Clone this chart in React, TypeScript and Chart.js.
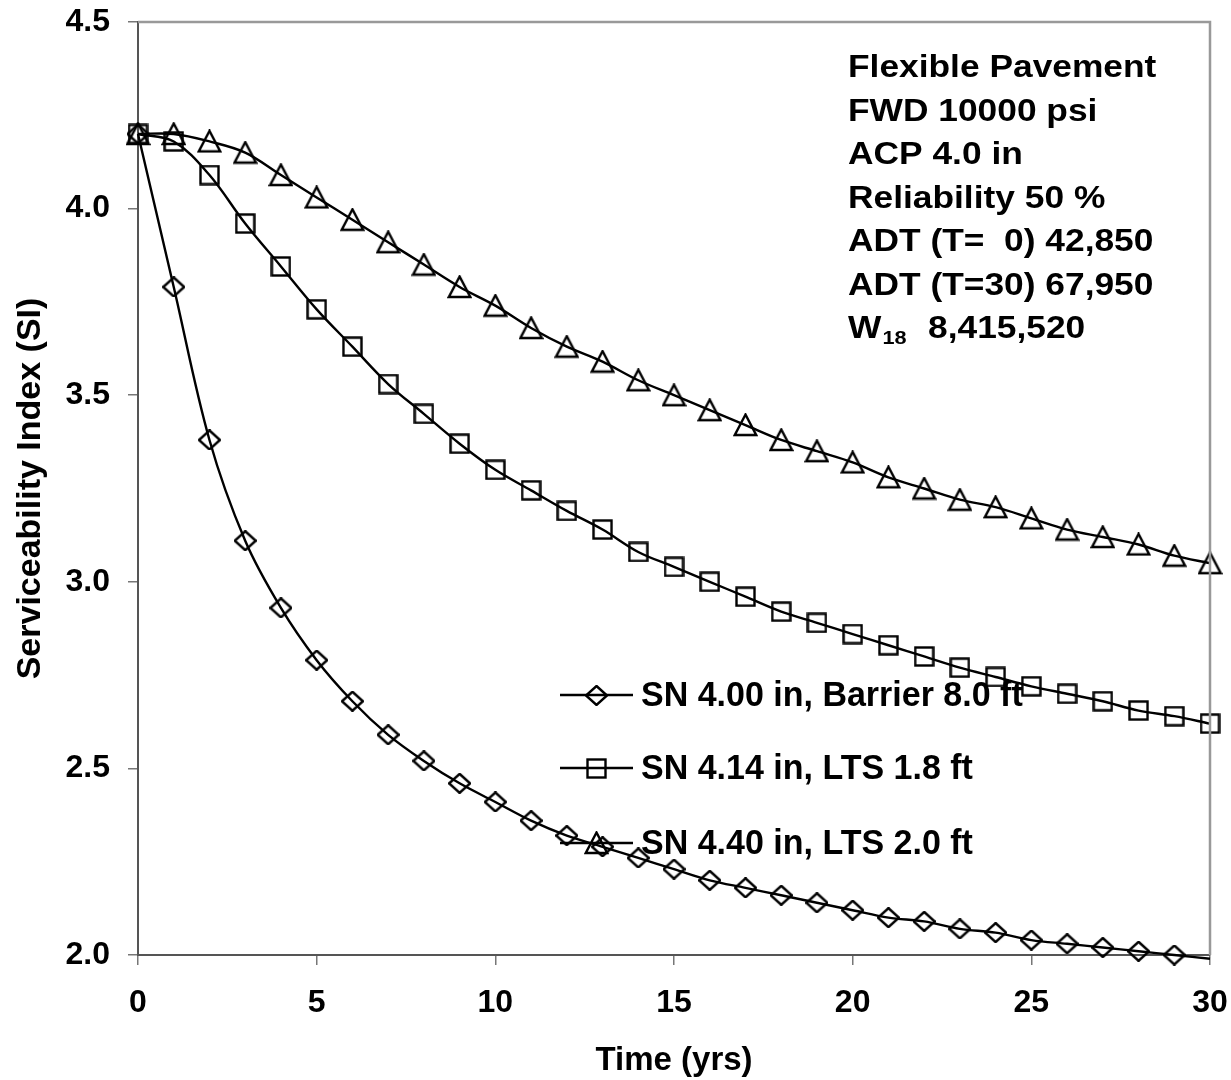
import React, { useEffect, useRef } from "react";
import { Chart, registerables } from "chart.js";

Chart.register(...registerables);

const years = [0,1,2,3,4,5,6,7,8,9,10,11,12,13,14,15,16,17,18,19,20,21,22,23,24,25,26,27,28,29,30];

const sn400Barrier = [4.20,3.79,3.38,3.11,2.93,2.79,2.68,2.59,2.52,2.46,2.41,2.36,2.32,2.29,2.26,2.23,2.20,2.18,2.16,2.14,2.12,2.10,2.09,2.07,2.06,2.04,2.03,2.02,2.01,2.00,1.99];
const sn414Lts = [4.20,4.18,4.09,3.96,3.845,3.73,3.63,3.53,3.45,3.37,3.30,3.245,3.19,3.14,3.08,3.04,3.00,2.96,2.92,2.89,2.86,2.83,2.80,2.77,2.745,2.72,2.70,2.68,2.655,2.64,2.62];
const sn440Lts = [4.20,4.20,4.18,4.15,4.09,4.03,3.97,3.91,3.85,3.79,3.74,3.68,3.63,3.59,3.54,3.50,3.46,3.42,3.38,3.35,3.32,3.28,3.25,3.22,3.20,3.17,3.14,3.12,3.10,3.07,3.05];

const seriesLabels = ["SN 4.00 in, Barrier 8.0 ft", "SN 4.14 in, LTS 1.8 ft", "SN 4.40 in, LTS 2.0 ft"];

const yTicks = [2.0, 2.5, 3.0, 3.5, 4.0, 4.5];
const xTicks = [0, 5, 10, 15, 20, 25, 30];

const infoLines = [
  "Flexible Pavement",
  "FWD 10000 psi",
  "ACP 4.0 in",
  "Reliability 50 %",
  "ADT (T=  0) 42,850",
  "ADT (T=30) 67,950",
];
const w18Main = "W";
const w18Sub = "18";
const w18Value = "8,415,520";

const FONT = "'Liberation Sans', Arial, Helvetica, sans-serif";

function makeMarker(kind: string): HTMLCanvasElement {
  const c = document.createElement("canvas");
  const ctx = c.getContext("2d")!;
  ctx.strokeStyle = "#000";
  if (kind === "triangle") {
    c.width = 25; c.height = 24;
    ctx.strokeStyle = "#000";
    ctx.lineWidth = 2.4;
    ctx.lineJoin = "miter";
    ctx.beginPath();
    ctx.moveTo(12.5, 1.5);
    ctx.lineTo(1.8, 22);
    ctx.lineTo(23.2, 22);
    ctx.closePath();
    ctx.stroke();
  } else if (kind === "square") {
    c.width = 21; c.height = 21;
    ctx.strokeStyle = "#000";
    ctx.lineWidth = 2.4;
    ctx.strokeRect(1.5, 1.5, 18, 18);
  } else {
    c.width = 23; c.height = 21;
    ctx.strokeStyle = "#000";
    ctx.lineWidth = 2.4;
    ctx.beginPath();
    ctx.moveTo(11.5, 1);
    ctx.lineTo(22, 10.5);
    ctx.lineTo(11.5, 20);
    ctx.lineTo(1, 10.5);
    ctx.closePath();
    ctx.stroke();
  }
  return c;
}

const zeroPad = (s: any) => {
  s.paddingTop = 0;
  s.paddingBottom = 0;
  s.paddingLeft = 0;
  s.paddingRight = 0;
};

export default function App() {
  const ref = useRef<HTMLCanvasElement | null>(null);

  useEffect(() => {
    const canvas = ref.current;
    if (!canvas) return;
    const diamond = makeMarker("diamond");
    const square = makeMarker("square");
    const triangle = makeMarker("triangle");
    const markers = [diamond, square, triangle];
    const seriesData = [sn400Barrier, sn414Lts, sn440Lts];

    const framePlugin = {
      id: "frame",
      afterDraw(chart: any) {
        const { ctx, chartArea } = chart;
        ctx.save();
        ctx.strokeStyle = "#999";
        ctx.lineWidth = 2.5;
        ctx.beginPath();
        ctx.moveTo(chartArea.left, chartArea.top);
        ctx.lineTo(chartArea.right, chartArea.top);
        ctx.lineTo(chartArea.right, chartArea.bottom);
        ctx.stroke();
        ctx.restore();
      },
    };

    const legendPlugin = {
      id: "customLegend",
      afterDraw(chart: any) {
        const { ctx } = chart;
        ctx.save();
        const lx0 = 560, lx1 = 633, tx = 641;
        const ys = [695, 768, 843];
        for (let i = 0; i < 3; i++) {
          const y = ys[i];
          ctx.strokeStyle = "#000";
          ctx.lineWidth = 2.4;
          ctx.beginPath();
          ctx.moveTo(lx0, y);
          ctx.lineTo(lx1, y);
          ctx.stroke();
          const m = markers[i];
          ctx.drawImage(m, Math.round((lx0 + lx1) / 2 - m.width / 2), Math.round(y - m.height / 2));
          ctx.save();
          ctx.translate(tx, y);
          ctx.scale(1.0, 1.05);
          ctx.fillStyle = "#000";
          ctx.font = `bold 34px ${FONT}`;
          ctx.textBaseline = "middle";
          ctx.textAlign = "left";
          ctx.fillText(seriesLabels[i], 0, 1);
          ctx.restore();
        }
        ctx.restore();
      },
    };

    const infoPlugin = {
      id: "info",
      afterDraw(chart: any) {
        const { ctx } = chart;
        ctx.save();
        ctx.fillStyle = "#000";
        ctx.textBaseline = "alphabetic";
        ctx.textAlign = "left";
        const x0 = 848;
        const step = 43.5;
        const base0 = 77;
        const sx = 1.14;
        infoLines.forEach((line, i) => {
          ctx.save();
          ctx.translate(x0, base0 + i * step);
          ctx.scale(sx, 1);
          ctx.font = `bold 31px ${FONT}`;
          ctx.fillText(line, 0, 0);
          ctx.restore();
        });
        const by = base0 + infoLines.length * step;
        ctx.save();
        ctx.translate(x0, by);
        ctx.scale(sx, 1);
        ctx.font = `bold 31px ${FONT}`;
        ctx.fillText(w18Main, 0, 0);
        const ww = ctx.measureText(w18Main).width;
        ctx.font = `bold 19px ${FONT}`;
        ctx.fillText(w18Sub, ww + 1, 6);
        ctx.restore();
        ctx.save();
        ctx.translate(928, by);
        ctx.scale(sx, 1);
        ctx.font = `bold 31px ${FONT}`;
        ctx.fillText(w18Value, 0, 0);
        ctx.restore();
        ctx.restore();
      },
    };

    const chart = new Chart(canvas, {
      type: "line",
      data: {
        datasets: seriesData.map((arr, i) => ({
          label: seriesLabels[i],
          data: years.map((t, j) => ({ x: t, y: arr[j] })),
          borderColor: "#000",
          backgroundColor: "transparent",
          borderWidth: 2.4,
          tension: 0.35,
          fill: false,
          clip: false as any,
          pointStyle: markers[i] as any,
          pointRadius: (c: any) => (c.parsed && c.parsed.y < 2 ? 0 : 10),
          pointHoverRadius: 10,
        })),
      },
      options: {
        animation: false,
        responsive: false,
        maintainAspectRatio: false,
        events: [],
        layout: { padding: { top: 22, right: 21, left: 0, bottom: 0 } },
        plugins: {
          legend: { display: false },
          tooltip: { enabled: false },
          title: { display: false },
        },
        scales: {
          x: {
            type: "linear",
            min: 0,
            max: 30,
            afterFit: (s: any) => { s.height = 125; zeroPad(s); },
            afterBuildTicks: (s: any) => { s.ticks = xTicks.map((v) => ({ value: v })); },
            ticks: {
              color: "#000",
              font: { family: FONT, size: 32, weight: "bold" },
              padding: 19,
              maxRotation: 0,
              autoSkip: false,
              callback: (v: any) => String(v),
            },
            grid: { drawOnChartArea: false, drawTicks: true, tickLength: 10, color: "#777", lineWidth: 1.5 },
            border: { display: true, color: "#555", width: 2 },
            title: {
              display: true,
              text: "Time (yrs)",
              color: "#000",
              font: { family: FONT, size: 33, weight: "bold" },
              padding: { top: 0, bottom: -1 },
            },
          },
          y: {
            type: "linear",
            min: 2,
            max: 4.5,
            afterFit: (s: any) => { s.width = 138; zeroPad(s); },
            afterBuildTicks: (s: any) => { s.ticks = yTicks.map((v) => ({ value: v })); },
            ticks: {
              color: "#000",
              font: { family: FONT, size: 32, weight: "bold" },
              padding: 18,
              autoSkip: false,
              callback: (v: any) => Number(v).toFixed(1),
            },
            grid: { drawOnChartArea: false, drawTicks: true, tickLength: 10, color: "#777", lineWidth: 1.5 },
            border: { display: true, color: "#555", width: 2 },
            title: {
              display: true,
              text: "Serviceability Index (SI)",
              color: "#000",
              font: { family: FONT, size: 34, weight: "bold" },
              padding: { top: 10, bottom: 0 },
            },
          },
        },
      },
      plugins: [framePlugin, legendPlugin, infoPlugin],
    } as any);

    return () => chart.destroy();
  }, []);

  return (
    <div style={{ position: "fixed", left: 0, top: 0, width: 1231, height: 1080, background: "#fff" }}>
      <canvas ref={ref} width={1231} height={1080} style={{ display: "block" }} />
    </div>
  );
}
